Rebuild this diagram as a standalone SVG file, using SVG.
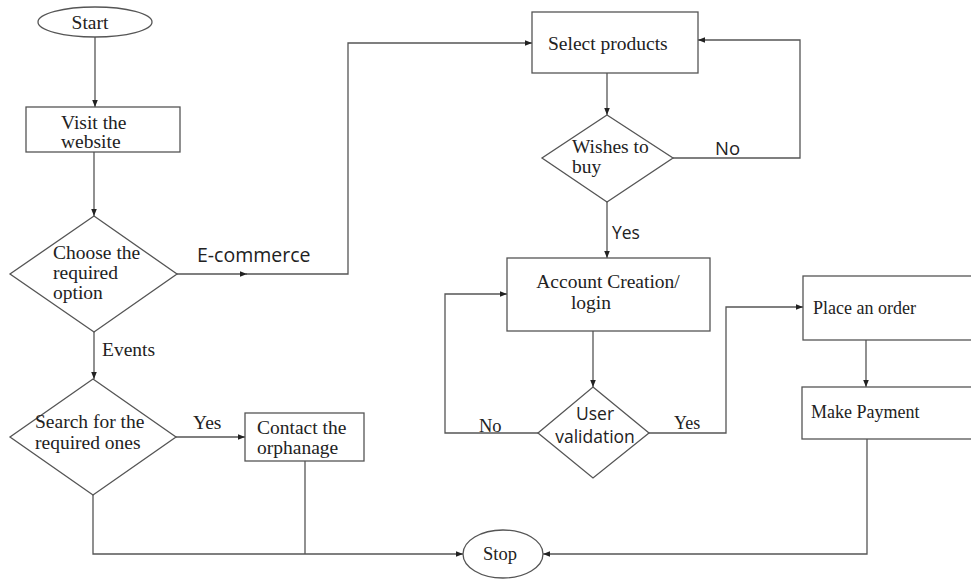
<svg xmlns="http://www.w3.org/2000/svg" width="971" height="579" viewBox="0 0 971 579">
<defs>
<marker id="ah" viewBox="0 0 10 10" refX="10" refY="5" markerWidth="7" markerHeight="7" orient="auto" markerUnits="userSpaceOnUse"><path d="M0,1 L10,5 L0,9 z" fill="#222"/></marker>
<style>
.s{fill:#fff;stroke:#555;stroke-width:1.3}
.c{fill:none;stroke:#555;stroke-width:1.3}
.t{font-family:"Liberation Serif","Times New Roman",serif;font-size:19.5px;fill:#222}
.m{font-family:"Liberation Serif","Times New Roman",serif;font-size:18px;fill:#222}
.a{font-family:"Open Sans","Liberation Sans",sans-serif;font-size:17.5px;fill:#222}
</style>
</defs>
<rect width="971" height="579" fill="#fff"/>
<g id="connectors">
<path class="c" d="M95,37 V107" marker-end="url(#ah)"/>
<path class="c" d="M94,152 V216" marker-end="url(#ah)"/>
<path class="c" d="M177,274 H247" marker-end="url(#ah)"/>
<path class="c" d="M245,274 H348 V43 H532" marker-end="url(#ah)"/>
<path class="c" d="M94,332 V379" marker-end="url(#ah)"/>
<path class="c" d="M176,437 H245" marker-end="url(#ah)"/>
<path class="c" d="M93,495 V554 H463" marker-end="url(#ah)"/>
<path class="c" d="M305,461 V554"/>
<path class="c" d="M607,73 V115" marker-end="url(#ah)"/>
<path class="c" d="M673,158 H800 V40 H698" marker-end="url(#ah)"/>
<path class="c" d="M607,202 V258" marker-end="url(#ah)"/>
<path class="c" d="M593,331 V387" marker-end="url(#ah)"/>
<path class="c" d="M538,433 H445 V294 H507" marker-end="url(#ah)"/>
<path class="c" d="M649,433 H726 V307 H803" marker-end="url(#ah)"/>
<path class="c" d="M866,340 V387" marker-end="url(#ah)"/>
<path class="c" d="M867,439 V554 H543" marker-end="url(#ah)"/>
</g>
<g id="labels">
<text class="a" x="197" y="262" style="font-size:19.5px">E-commerce</text>
<text class="t" x="102" y="356">Events</text>
<text class="t" x="193" y="429">Yes</text>
<text class="a" x="715" y="155" style="font-size:18.5px">No</text>
<text class="a" x="612" y="239">Yes</text>
<text class="m" x="479" y="432" style="font-size:18.5px">No</text>
<text class="m" x="674" y="429">Yes</text>
</g>
<g id="start"><ellipse class="s" cx="95" cy="22" rx="57" ry="15"/><text class="t" x="90" y="29" text-anchor="middle">Start</text></g>
<g id="visit"><rect class="s" x="26" y="107" width="154" height="45"/><text class="t" x="61" y="129">Visit the</text><text class="t" x="61" y="148">website</text></g>
<g id="choose"><polygon class="s" points="94,216 177,274 94,332 10,274"/><text class="t" x="53" y="259">Choose the</text><text class="t" x="53" y="279">required</text><text class="t" x="53" y="299">option</text></g>
<g id="search"><polygon class="s" points="93,379 176,437 93,495 10,437"/><text class="t" x="35" y="428">Search for the</text><text class="t" x="35" y="449">required ones</text></g>
<g id="contact"><rect class="s" x="245" y="413" width="119" height="48"/><text class="t" x="257" y="434">Contact the</text><text class="t" x="257" y="454">orphanage</text></g>
<g id="select"><rect class="s" x="532" y="12" width="166" height="61"/><text class="t" x="548" y="50">Select products</text></g>
<g id="wishes"><polygon class="s" points="607,115 673,158 607,202 542,158"/><text class="t" x="572" y="153">Wishes to</text><text class="t" x="572" y="173">buy</text></g>
<g id="account"><rect class="s" x="507" y="258" width="203" height="73"/><text class="t" x="608" y="288" text-anchor="middle">Account Creation/</text><text class="t" x="591" y="309" text-anchor="middle">login</text></g>
<g id="validation"><polygon class="s" points="593,387 649,433 593,478 538,433"/><text class="a" x="595" y="420" text-anchor="middle">User</text><text class="a" x="595" y="443" text-anchor="middle">validation</text></g>
<g id="order"><rect class="s" x="803" y="276" width="170" height="64"/><text class="m" x="813" y="314">Place an order</text></g>
<g id="payment"><rect class="s" x="802" y="387" width="171" height="52"/><text class="m" x="811" y="418">Make Payment</text></g>
<g id="stop"><ellipse class="s" cx="503" cy="554" rx="40" ry="24"/><text class="m" x="500" y="560" text-anchor="middle" style="font-size:18.5px">Stop</text></g>
</svg>
